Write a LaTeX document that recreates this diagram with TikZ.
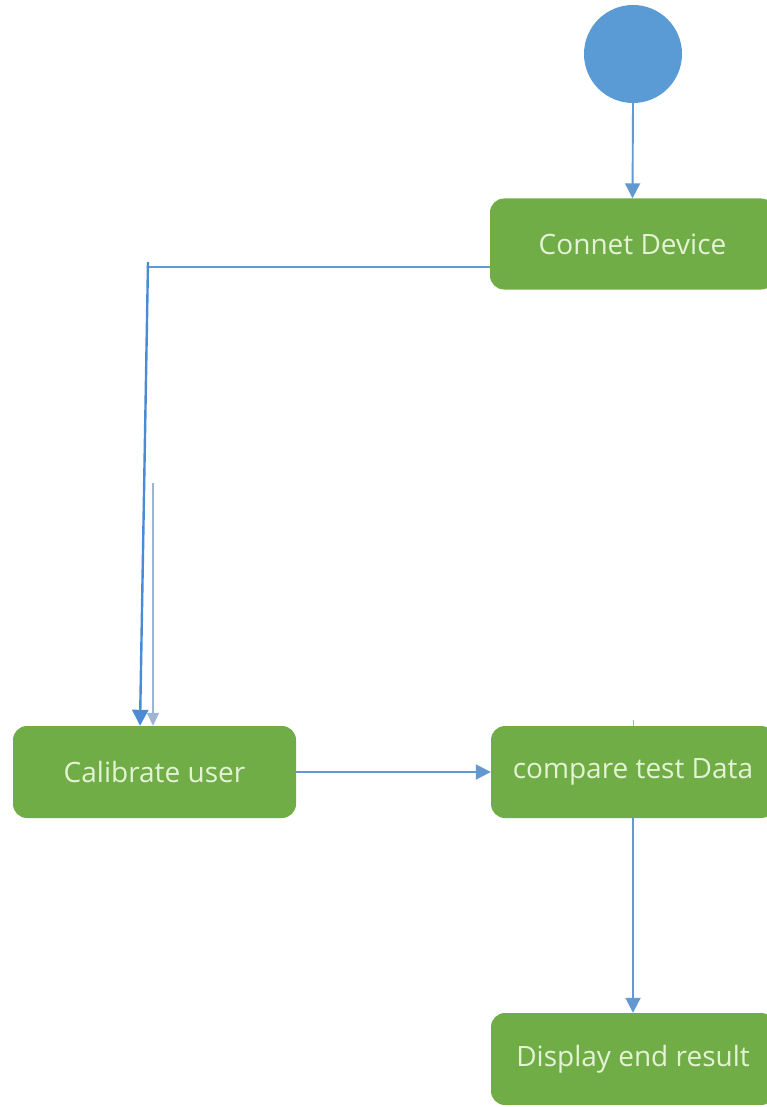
\documentclass[tikz,border=0pt]{standalone}
\usepackage{fontspec}
\setmainfont{Open Sans}
\usetikzlibrary{arrows.meta}
\definecolor{stategreen}{HTML}{70AD47}
\definecolor{statetext}{HTML}{E4F3D4}
\definecolor{startblue}{HTML}{5B9BD5}
\definecolor{flowblue}{HTML}{6498D0}
\definecolor{linkblue}{HTML}{4A8BD6}
\definecolor{paleblue}{HTML}{9DB5D3}
\tikzset{
  statebox/.style={draw=none, fill=stategreen, rounded corners=14pt,
    minimum width=285pt, minimum height=91pt, inner sep=0pt,
    text=statetext, font=\fontsize{28}{32}\selectfont},
  flow/.style={draw=flowblue, line width=1.9pt,
    -{Triangle[length=15pt,width=15pt]}},
  thinflow/.style={draw=flowblue, line width=1.3pt},
  slantflow/.style={draw=linkblue, line width=2.4pt,
    -{Triangle[length=16pt,width=16pt]}},
  ghostflow/.style={draw=paleblue, line width=1.4pt,
    -{Triangle[length=13pt,width=12pt]}}
}
\begin{document}
\begin{tikzpicture}[x=1pt,y=-1pt]
  \useasboundingbox (0,0) rectangle (767,1107);
  \clip (0,0) rectangle (767,1107);

  % start state
  \node[circle, fill=startblue, minimum size=98pt, inner sep=0pt] (start) at (633,54) {};

  % activities
  \node[statebox] (connect) at (632.5,244) {Connet Device};
  \node[statebox, minimum width=283pt, minimum height=92pt] (calib) at (154.5,772) {Calibrate user};
  \node[statebox, minimum width=284pt, minimum height=92pt] (compare) at (633,772) {compare test Data};
  \node[statebox, minimum width=284pt, minimum height=92pt] (display) at (633,1059) {Display end result};

  % routing points of the link to the calibration step
  \coordinate (elbow) at (148,267);
  \coordinate (slanttop) at (148,262);
  \coordinate (ghosttop) at (153,483);

  % flows
  \draw[flow] (start.south) -- (connect.north);
  \draw[thinflow] (connect.west |- elbow) -- (elbow);
  \draw[ghostflow] (ghosttop) -- ([xshift=-1.5pt]calib.north);
  \draw[slantflow] (slanttop) -- ([xshift=-14.5pt]calib.north);
  \draw[flow] (calib.east) -- (compare.west);
  \draw[flow] (compare.south) -- (display.north);
  \draw[paleblue, line width=1pt] ([yshift=6pt]compare.north) -- (compare.north);
\end{tikzpicture}
\end{document}
